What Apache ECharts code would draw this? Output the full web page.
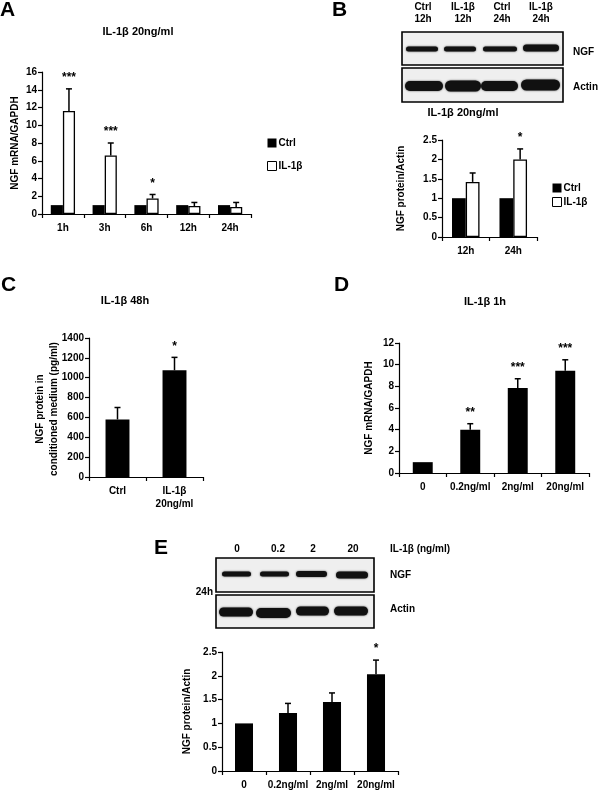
<!DOCTYPE html>
<html><head><meta charset="utf-8">
<script src="https://cdn.jsdelivr.net/npm/echarts@6/dist/echarts.min.js"></script>
<style>html,body{margin:0;padding:0;background:#fff}#c{width:600px;height:792px}</style>
</head><body><div id="c"></div>
<script>
// ---------- data ----------
const catsA = ['1h', '3h', '6h', '12h', '24h'];
const ctrlA = [1, 1, 1, 1, 1];
const ilA = [11.6, 6.6, 1.75, 0.9, 0.8];
const ilAErr = [2.5, 1.4, 0.45, 0.4, 0.5];
const starsA = ['***', '***', '*', '', ''];

const catsB = ['12h', '24h'];
const ctrlB = [1, 1];
const ilB = [1.42, 2.0];
const ilBErr = [0.23, 0.27];
const starsB = ['', '*'];

const catsC = ['Ctrl', 'IL-1β\n20ng/ml'];
const valC = [580, 1075];
const errC = [120, 130];
const starsC = ['', '*'];

const catsD = ['0', '0.2ng/ml', '2ng/ml', '20ng/ml'];
const valD = [1, 4.0, 7.85, 9.45];
const errD = [0, 0.55, 0.85, 1.0];
const starsD = ['', '**', '***', '***'];

const catsE = ['0', '0.2ng/ml', '2ng/ml', '20ng/ml'];
const valE = [1, 1.22, 1.45, 2.03];
const errE = [0, 0.2, 0.19, 0.3];
const starsE = ['', '', '', '*'];

const blotLanesB = ['Ctrl\n12h', 'IL-1β\n12h', 'Ctrl\n24h', 'IL-1β\n24h'];
const blotLanesE = ['0', '0.2', '2', '20'];

// ---------- helpers ----------
const FF = 'Liberation Sans, Arial, sans-serif';
const txt = (size) => ({fontFamily: FF, fontWeight: 'bold', fontSize: size, color: '#000'});

function yAx(gi, max, interval, name, nameGap) {
  return {
    type: 'value', gridIndex: gi, min: 0, max: max, interval: interval,
    name: name, nameLocation: 'middle', nameGap: nameGap, nameRotate: 90,
    nameTextStyle: Object.assign(txt(10), {lineHeight: 14}),
    axisLine: {show: true, lineStyle: {color: '#000', width: 1.2}},
    axisTick: {show: true, length: 4, lineStyle: {color: '#000', width: 1.2}},
    splitLine: {show: false},
    axisLabel: Object.assign(txt(10), {margin: 5, formatter: (v) => String(v)})
  };
}
function xAx(gi, data) {
  return {
    type: 'category', gridIndex: gi, data: data,
    axisLine: {show: true, lineStyle: {color: '#000', width: 1.2}},
    axisTick: {show: true, length: 4, lineStyle: {color: '#000', width: 1.2}},
    axisLabel: Object.assign(txt(10), {margin: 8, lineHeight: 13, interval: 0})
  };
}
function errSeries(ai, vals, errs, stars, offFrac) {
  return {
    type: 'custom', xAxisIndex: ai, yAxisIndex: ai, z: 10,
    data: vals.map((v, i) => [i, v, v + errs[i]]),
    renderItem: function (params, api) {
      const i = api.value(0);
      const base = api.coord([i, api.value(1)]);
      const top = api.coord([i, api.value(2)]);
      const bw = api.size([1, 0])[0];
      const x = base[0] + bw * offFrac;
      const ch = [];
      if (api.value(2) > api.value(1)) {
        ch.push({type: 'line', shape: {x1: x, y1: base[1], x2: x, y2: top[1]}, style: {stroke: '#000', lineWidth: 1.5}});
        ch.push({type: 'line', shape: {x1: x - 3, y1: top[1], x2: x + 3, y2: top[1]}, style: {stroke: '#000', lineWidth: 1.5}});
      }
      const s = stars[params.dataIndex];
      if (s) {
        ch.push({type: 'text', x: x, y: top[1] - 11, style: {text: s, fontFamily: FF, fontWeight: 'bold', fontSize: 12, fill: '#000', align: 'center', verticalAlign: 'middle'}});
      }
      return {type: 'group', children: ch};
    }
  };
}
const BLACK = {color: '#000'};
const WHITE = {color: '#fff', borderColor: '#000', borderWidth: 1.3};

// ---------- graphics (labels, blots) ----------
const G = [];
function T(x, y, text, size, align, extra) {
  G.push({type: 'text', x: x, y: y, z: 20, style: Object.assign({text: text, fontFamily: FF, fontWeight: 'bold', fontSize: size, fill: '#000', align: align || 'center', verticalAlign: 'middle', lineHeight: 12}, extra || {})});
}
function box(x, y, w, h) {
  G.push({type: 'rect', shape: {x: x, y: y, width: w, height: h}, z: 5, style: {fill: '#efefef', stroke: '#000', lineWidth: 1.6}});
}
function band(x1, x2, yc, h) {
  G.push({type: 'rect', shape: {x: x1, y: yc - h / 2, width: x2 - x1, height: h, r: h / 2}, z: 6, style: {fill: '#111', shadowBlur: 2, shadowColor: 'rgba(0,0,0,0.7)'}});
}
// panel letters
T(0, 10, 'A', 21, 'left');
T(332, 10, 'B', 21, 'left');
T(1, 285, 'C', 21, 'left');
T(334, 285, 'D', 21, 'left');
T(154, 548, 'E', 21, 'left');
// titles
T(138, 32, 'IL-1β 20ng/ml', 11);
T(463, 113, 'IL-1β 20ng/ml', 11);
T(125, 301, 'IL-1β 48h', 11);
T(485, 302, 'IL-1β 1h', 11);
// panel C y-axis name (two lines)
G.push({type: 'text', x: 47, y: 409, rotation: Math.PI / 2, z: 20, style: {text: 'NGF protein in\nconditioned medium (pg/ml)', fontFamily: FF, fontWeight: 'bold', fontSize: 10, fill: '#000', align: 'center', verticalAlign: 'middle', lineHeight: 14}});
// blot B
const laneXB = [423, 463, 502, 541];
blotLanesB.forEach((l, i) => T(laneXB[i], 13, l, 10, 'center'));
box(402, 32, 161, 33);
box(402, 68, 161, 34);
band(406, 438, 49, 5); band(444, 476, 49, 5); band(483, 517, 49, 5); band(523, 559, 48, 7);
band(405, 443, 86, 10); band(445, 481, 86, 11); band(481, 518, 86, 10); band(521, 560, 85, 11);
T(573, 52, 'NGF', 10, 'left');
T(573, 87, 'Actin', 10, 'left');
// blot E
const laneXE = [237, 278, 313, 353];
blotLanesE.forEach((l, i) => T(laneXE[i], 549, l, 10, 'center'));
T(390, 549, 'IL-1β (ng/ml)', 10, 'left');
box(216, 558, 158, 34);
box(216, 595, 158, 33);
band(222, 251, 574, 5); band(260, 289, 574, 5); band(296, 327, 574, 6); band(336, 368, 575, 7);
band(219, 253, 612, 9); band(256, 291, 613, 10); band(296, 329, 611, 9); band(334, 368, 611, 9);
T(390, 575, 'NGF', 10, 'left');
T(390, 609, 'Actin', 10, 'left');
T(213, 592, '24h', 10, 'right');

const legendData = [{name: 'Ctrl', itemStyle: {color: '#000'}}, {name: 'IL-1β', itemStyle: {color: '#fff', borderColor: '#000', borderWidth: 1}}];

const option = {
  animation: false,
  backgroundColor: '#fff',
  textStyle: {fontFamily: FF},
  grid: [
    {left: 42, top: 72, width: 209, height: 142},
    {left: 442, top: 140, width: 95, height: 97},
    {left: 89, top: 338, width: 114, height: 139},
    {left: 399, top: 343, width: 190, height: 130},
    {left: 222, top: 652, width: 176, height: 122}
  ],
  xAxis: [xAx(0, catsA), xAx(1, catsB), xAx(2, catsC), xAx(3, catsD), xAx(4, catsE)],
  yAxis: [
    yAx(0, 16, 2, 'NGF mRNA/GAPDH', 16),
    yAx(1, 2.5, 0.5, 'NGF protein/Actin', 34),
    yAx(2, 1400, 200, '', 14),
    yAx(3, 12, 2, 'NGF mRNA/GAPDH', 23),
    yAx(4, 2.5, 0.5, 'NGF protein/Actin', 28)
  ],
  legend: [
    {orient: 'vertical', left: 262, top: 133, itemWidth: 9, itemHeight: 9, itemGap: 13, icon: 'rect', data: legendData, textStyle: Object.assign(txt(10), {padding: [0, 0, 0, -3]}), selectedMode: false},
    {orient: 'vertical', left: 547, top: 178, itemWidth: 9, itemHeight: 9, itemGap: 4, icon: 'rect', data: legendData, textStyle: Object.assign(txt(10), {padding: [0, 0, 0, -3]}), selectedMode: false}
  ],
  series: [
    {name: 'Ctrl', type: 'bar', xAxisIndex: 0, yAxisIndex: 0, data: ctrlA, barWidth: '29%', barGap: '0%', itemStyle: BLACK},
    {name: 'IL-1β', type: 'bar', xAxisIndex: 0, yAxisIndex: 0, data: ilA, barWidth: '29%', barGap: '0%', itemStyle: WHITE},
    errSeries(0, ilA, ilAErr, starsA, 0.145),
    {name: 'Ctrl', type: 'bar', xAxisIndex: 1, yAxisIndex: 1, data: ctrlB, barWidth: '29%', barGap: '0%', itemStyle: BLACK},
    {name: 'IL-1β', type: 'bar', xAxisIndex: 1, yAxisIndex: 1, data: ilB, barWidth: '29%', barGap: '0%', itemStyle: WHITE},
    errSeries(1, ilB, ilBErr, starsB, 0.145),
    {type: 'bar', xAxisIndex: 2, yAxisIndex: 2, data: valC, barWidth: '42%', itemStyle: BLACK},
    errSeries(2, valC, errC, starsC, 0),
    {type: 'bar', xAxisIndex: 3, yAxisIndex: 3, data: valD, barWidth: '42%', itemStyle: BLACK},
    errSeries(3, valD, errD, starsD, 0),
    {type: 'bar', xAxisIndex: 4, yAxisIndex: 4, data: valE, barWidth: '41%', itemStyle: BLACK},
    errSeries(4, valE, errE, starsE, 0)
  ],
  graphic: G
};
const chart = echarts.init(document.getElementById('c'), null, {renderer: 'canvas'});
chart.setOption(option);
</script></body></html>
